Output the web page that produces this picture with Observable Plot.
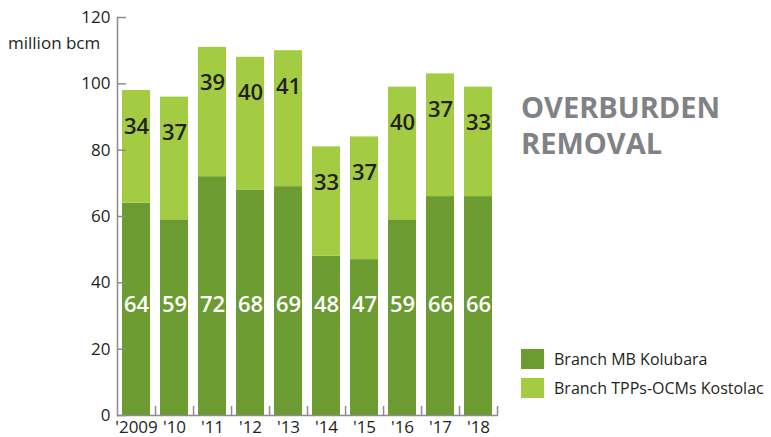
<!DOCTYPE html>
<html>
<head>
<meta charset="utf-8">
<script src="https://cdn.jsdelivr.net/npm/d3@7"></script>
<script src="https://cdn.jsdelivr.net/npm/@observablehq/plot@0.6"></script>
<style>
  body { margin: 0; background: #fff; }
  #wrap { position: relative; width: 771px; height: 437px; overflow: hidden; font-family: "Open Sans", sans-serif; color: #231f20; }
  #wrap svg { position: absolute; left: 0; top: 0; }
  .unit { position: absolute; left: 8px; top: 32px; font-size: 17px; line-height: 22px; white-space: nowrap; }
  .title { position: absolute; left: 521px; font-size: 29px; font-weight: 700; line-height: 29px; color: #808285; white-space: nowrap; }
  .legend { position: absolute; left: 521px; top: 344px; font-size: 16px; white-space: nowrap; }
  .item { display: flex; align-items: center; height: 29px; }
  .sw { width: 23px; height: 20px; margin-right: 10px; flex: none; }
</style>
</head>
<body>
<div id="wrap">
  <div class="unit">million bcm</div>
  <div class="title" style="top:92px">OVERBURDEN</div>
  <div class="title" style="top:128px">REMOVAL</div>
  <div class="legend" id="legend"></div>
</div>
<script>
const years = ["'2009", "'10", "'11", "'12", "'13", "'14", "'15", "'16", "'17", "'18"];
const kolubara = [64, 59, 72, 68, 69, 48, 47, 59, 66, 66];
const kostolac = [34, 37, 39, 40, 41, 33, 37, 40, 37, 33];
const seriesNames = ["Branch MB Kolubara", "Branch TPPs-OCMs Kostolac"];
const seriesColors = ["#6b9b31", "#a3cc42"];
const yTicks = [0, 20, 40, 60, 80, 100, 120];

const rows = [];
years.forEach((yr, i) => {
  rows.push({year: yr, series: seriesNames[0], value: kolubara[i]});
  rows.push({year: yr, series: seriesNames[1], value: kostolac[i]});
});
const darkLabels = years.map((yr, i) => ({year: yr, v: kolubara[i]}));
const lightLabels = years.map((yr, i) => ({year: yr, v: kostolac[i], total: kolubara[i] + kostolac[i]}));

const W = 771, H = 437, mL = 117, mR = 273, mT = 17, mB = 22;
const frameW = W - mL - mR, frameH = H - mT - mB;
const step = frameW / (years.length + 0.13 * 2 - 0.26);
const axisColor = "#8c8c8c";

const chart = Plot.plot({
  width: W, height: H,
  marginLeft: mL, marginRight: mR, marginTop: mT, marginBottom: mB,
  style: {fontFamily: "Open Sans, sans-serif", fontSize: "17px", color: "#231f20", background: "transparent", overflow: "visible"},
  x: {domain: years, paddingInner: 0.26, paddingOuter: 0.13, label: null},
  y: {domain: [0, 120], label: null},
  color: {domain: seriesNames, range: seriesColors},
  marks: [
    Plot.barY(rows, {x: "year", y: "value", fill: "series"}),
    Plot.text(darkLabels, {x: "year", text: d => String(d.v), frameAnchor: "bottom", dy: -104, fill: "#ffffff", fontSize: 22, fontWeight: 600}),
    Plot.text(lightLabels, {x: "year", y: "total", text: d => String(d.v), dy: 36, fill: "#231f20", fontSize: 22, fontWeight: 600}),
    Plot.axisY({ticks: yTicks, tickSize: 0, tickPadding: 7, tickFormat: d => String(d), fontSize: 17}),
    Plot.ruleY(yTicks, {y: d => d, stroke: axisColor, strokeWidth: 1.5, insetRight: frameW - 9}),
    Plot.axisX({tickSize: 0, tickPadding: 5, fontSize: 17}),
    Plot.ruleX(years, {x: d => d, dx: step / 2, stroke: axisColor, strokeWidth: 1.5, insetTop: frameH - 9}),
    Plot.ruleY([0], {stroke: axisColor, strokeWidth: 1.5}),
    Plot.frame({anchor: "left", stroke: axisColor, strokeWidth: 1.5})
  ]
});
document.getElementById("wrap").prepend(chart);

const legend = document.getElementById("legend");
seriesNames.forEach((name, i) => {
  const item = document.createElement("div");
  item.className = "item";
  const sw = document.createElement("span");
  sw.className = "sw";
  sw.style.background = seriesColors[i];
  const label = document.createElement("span");
  label.textContent = name;
  item.appendChild(sw);
  item.appendChild(label);
  legend.appendChild(item);
});
</script>
</body>
</html>
